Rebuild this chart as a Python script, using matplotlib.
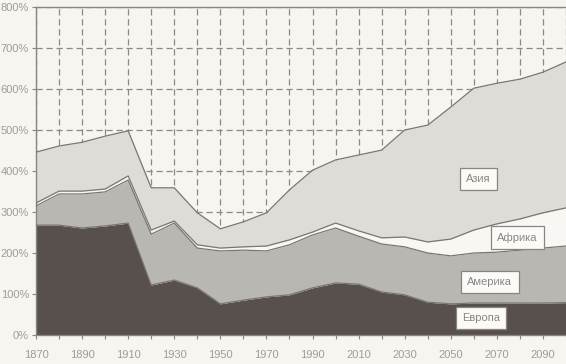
import matplotlib.pyplot as plt
import numpy as np

plt.rcParams['font.family'] = ['Liberation Sans', 'DejaVu Sans']

# годы и доли (в %)
years = [1870, 1880, 1890, 1900, 1910, 1920, 1930, 1940, 1950, 1960, 1970, 1980,
         1990, 2000, 2010, 2020, 2030, 2040, 2050, 2060, 2070, 2080, 2090, 2100]

# верхние границы слоёв (накопленные)
europe_top = [268, 268, 261, 266, 273, 122, 134, 115, 76, 85, 93, 98,
              115, 127, 124, 105, 98, 80, 76, 78, 78, 78, 78, 79]
america_top = [315, 344, 344, 349, 378, 246, 273, 212, 205, 207, 205, 220,
               244, 261, 241, 222, 215, 200, 193, 200, 202, 207, 212, 217]
africa_top = [322, 351, 351, 356, 388, 256, 278, 220, 212, 215, 217, 232,
              251, 273, 254, 237, 239, 227, 234, 256, 271, 283, 298, 310]
asia_top = [446, 461, 470, 485, 498, 359, 359, 298, 259, 276, 298, 354,
            402, 427, 439, 451, 500, 512, 556, 602, 614, 624, 641, 666]

labels = ['Европа', 'Америка', 'Африка', 'Азия']
colors = ['#58504d', '#b9b7b2', '#f8f7f3', '#dddcd7']
label_pos = [(2063, 42), (2067, 130), (2079, 237), (2062, 380)]
xticks = list(range(1870, 2100, 20))

bg = '#f6f5f0'
fig = plt.figure(figsize=(5.66, 3.64), dpi=100, facecolor=bg)
ax = fig.add_axes([36 / 566, 29 / 364, 530 / 566, 328 / 364], facecolor=bg)

x = np.array(years)
tops = [np.zeros(len(years)), np.array(europe_top), np.array(america_top),
        np.array(africa_top), np.array(asia_top)]
for i in range(4):
    ax.fill_between(x, tops[i], tops[i + 1], color=colors[i], lw=0, zorder=2)
    ax.plot(x, tops[i + 1], color='#7a7672', lw=0.9, zorder=3)

ax.set_xlim(1870, 2100)
ax.set_ylim(0, 800)
ax.set_xticks(range(1870, 2101, 10))
ax.set_xticklabels([str(y) if y in xticks else '' for y in range(1870, 2101, 10)])
ax.set_yticks(range(0, 801, 100))
ax.set_yticklabels([f'{v}%' for v in range(0, 801, 100)])
ax.grid(True, color='#8a8a8a', ls=(0, (5, 3)), lw=0.9, zorder=1)
ax.set_axisbelow(True)

ax.spines['right'].set_visible(False)
for s in ['left', 'bottom', 'top']:
    ax.spines[s].set_color('#8a8582')
    ax.spines[s].set_linewidth(1.0)
ax.tick_params(colors='#8a8582', labelcolor='#a09c98', labelsize=8, length=3, width=0.8, pad=2)
ax.tick_params(axis='x', pad=8)

for lab, (xx, yy) in zip(labels, label_pos):
    ax.text(xx, yy, lab, ha='center', va='center', fontsize=8, color='#8a8582', zorder=5,
            bbox=dict(boxstyle='square,pad=0.55', fc='#fbfaf7', ec='#8a8582', lw=0.9))

fig.savefig('out.png', dpi=100, facecolor=bg)
